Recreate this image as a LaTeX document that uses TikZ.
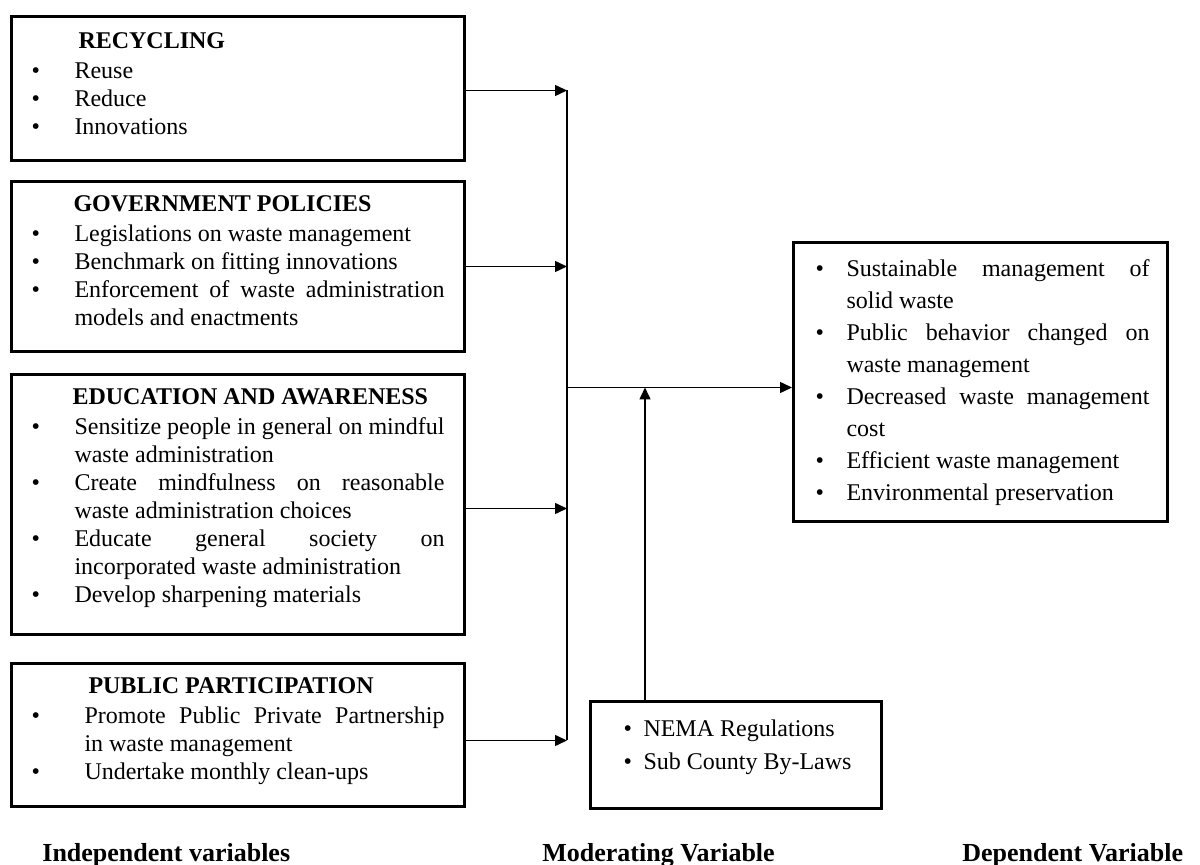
\documentclass[tikz,border=0pt]{standalone}
\usepackage{fontspec}
\setmainfont{Liberation Serif}
\usepackage{tikz}
\usetikzlibrary{arrows.meta,positioning,calc}
% bullet list: #1 bullet offset, #2 text offset, #3 right margin
\newenvironment{cflist}[3]{%
  \begin{list}{\textbullet}{%
    \setlength{\leftmargin}{#2}%
    \setlength{\labelwidth}{#2}\addtolength{\labelwidth}{-#1}%
    \setlength{\labelsep}{0pt}%
    \setlength{\rightmargin}{#3}%
    \setlength{\topsep}{1pt}\setlength{\partopsep}{0pt}%
    \setlength{\itemsep}{0pt}\setlength{\parsep}{0pt}%
    \renewcommand{\makelabel}[1]{##1\hfil}}}%
  {\end{list}}
\tikzset{
cfbox/.style={rectangle,draw,line width=1.5pt,inner xsep=0pt,inner ysep=0pt,anchor=north west,align=justify,font=\fontsize{12}{14}\selectfont},
cfindep/.style={cfbox,text width=226.5pt,text height=15pt},
cfdep/.style={cfbox,text width=187pt,text height=0pt,text depth=139.5pt,font=\fontsize{12}{16}\selectfont},
cfmod/.style={cfbox,text width=145.5pt,text height=0pt,text depth=53.5pt,font=\fontsize{12}{16.5}\selectfont},
cfline/.style={line width=0.75pt},
cfarr/.style={-{Triangle[length=6pt,width=5.5pt]},line width=0.75pt},
cfcap/.style={anchor=base west,inner sep=0pt,font=\fontsize{13}{15}\selectfont\bfseries}
}
\begin{document}
\begin{tikzpicture}[
x=0.5pt,
y=-0.5pt
]
\useasboundingbox (0,0) rectangle (1200,865);
% independent variables
\node[cfindep,text height=16pt,text depth=56pt]
  (recyc) at (10,15) {\hspace*{33.5pt}\textbf{RECYCLING}\par
  \begin{cflist}{10pt}{31.5pt}{10pt}
  \item Reuse
  \item Reduce
  \item Innovations
  \end{cflist}};
\node[cfindep,text depth=70pt]
  (govt) at (10,180) {\hspace*{31pt}\textbf{GOVERNMENT POLICIES}\par
  \begin{cflist}{10pt}{31.5pt}{10pt}
  \item Legislations on waste management
  \item Benchmark on fitting innovations
  \item Enforcement of waste administration\linebreak models and enactments
  \end{cflist}};
\node[cfindep,text depth=115pt]
  (educ) at (10,373) {\hspace*{30.5pt}\textbf{EDUCATION AND AWARENESS}\par
  \begin{cflist}{10pt}{31.5pt}{10pt}
  \item Sensitize people in general on mindful\linebreak waste administration
  \item Create mindfulness on reasonable\linebreak waste administration choices
  \item Educate general society on\linebreak incorporated waste administration
  \item Develop sharpening materials
  \end{cflist}};
\node[cfindep,text depth=56.5pt]
  (partic) at (10,662) {\hspace*{38.5pt}\textbf{PUBLIC PARTICIPATION}\par
  \begin{cflist}{10pt}{36.5pt}{10pt}
  \item Promote Public Private Partnership\linebreak in waste management
  \item Undertake monthly clean-ups
  \end{cflist}};
% dependent and moderating variables
\node[cfdep]
  (depend) at (792,241) {\begin{cflist}{11pt}{26.5pt}{9pt}
  \item Sustainable management of\linebreak solid waste
  \item Public behavior changed on\linebreak waste management
  \item Decreased waste management\linebreak cost
  \item Efficient waste management
  \item Environmental preservation
  \end{cflist}};
\node[cfmod]
  (moder) at (589,700) {\begin{cflist}{16.5pt}{26.5pt}{0pt}
  \item NEMA Regulations
  \item Sub County By-Laws
  \end{cflist}};
% captions
\node[cfcap] (indcap) at (42,861) {Independent variables};
\node[cfcap] (modcap) at (542,861) {Moderating Variable};
\node[cfcap] (depcap) at (962,861) {Dependent Variable};
% connectors
\coordinate (bus) at (567,0);
\coordinate (modx) at (645,0);
\coordinate (recycout) at ([yshift=-1pt]recyc.east);
\coordinate (educout) at ([yshift=-2pt]educ.east);
\coordinate (particout) at ([yshift=-2.75pt]partic.east);
\coordinate (dependin) at ([yshift=-2.75pt]depend.west);
\draw[cfarr] (recycout)--(recycout -| bus);
\draw[cfarr] (govt.east)--(govt.east -| bus);
\draw[cfarr] (educout)--(educout -| bus);
\draw[cfarr] (particout)--(particout -| bus);
\draw[cfline] (recycout -| bus)--(particout -| bus);
\draw[cfarr] (dependin -| bus)--(dependin);
\draw[cfarr] (moder.north -| modx)--(dependin -| modx);
\end{tikzpicture}
\end{document}
